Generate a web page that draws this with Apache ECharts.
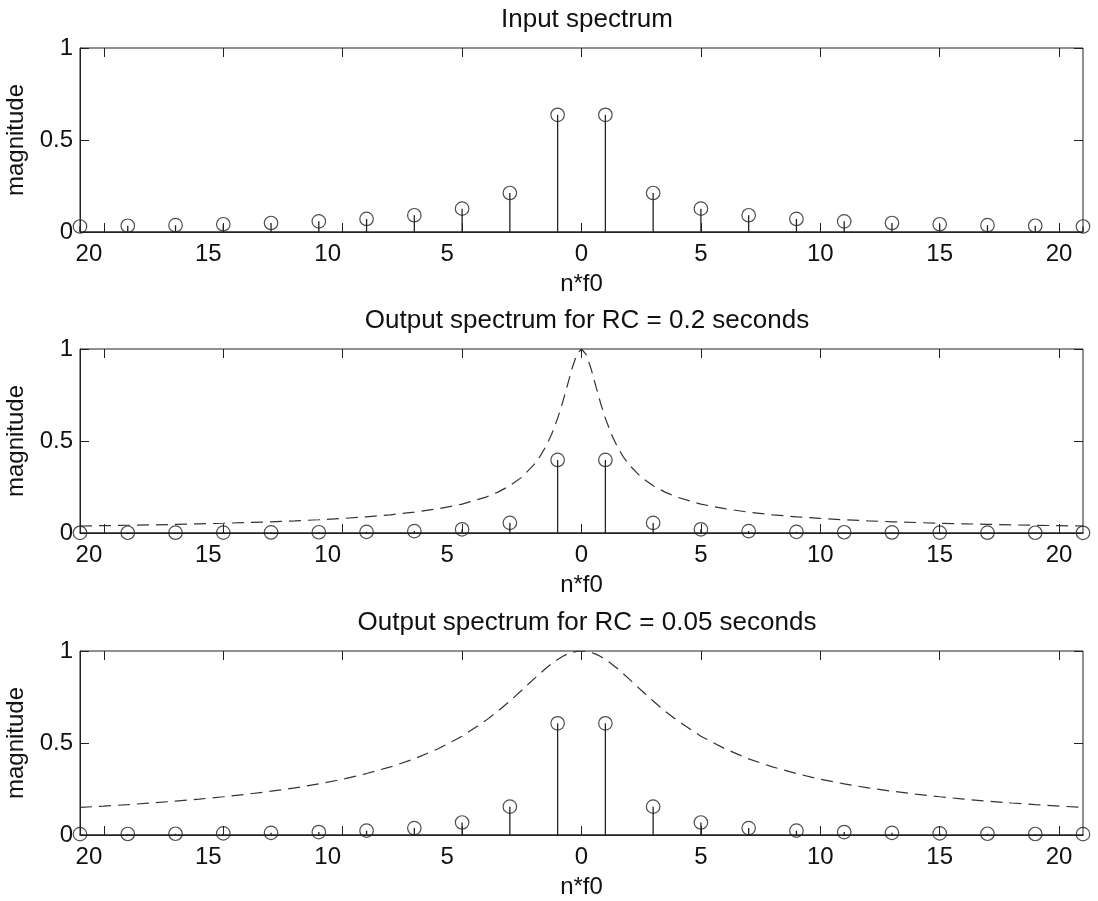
<!DOCTYPE html>
<html><head><meta charset="utf-8">
<script src="https://cdn.jsdelivr.net/npm/echarts@6/dist/echarts.min.js"></script>
<style>html,body{margin:0;padding:0;background:#fff}#c{width:1098px;height:901px}</style>
</head><body><div id="c"></div>
<script>
// ---- data ----
const harmonics = [-21,-19,-17,-15,-13,-11,-9,-7,-5,-3,-1,1,3,5,7,9,11,13,15,17,19,21];
const inputMag  = [0.030,0.034,0.037,0.042,0.049,0.058,0.071,0.091,0.127,0.212,0.637,
                   0.637,0.212,0.127,0.091,0.071,0.058,0.049,0.042,0.037,0.034,0.030];
const outRC02   = [0.0012,0.0014,0.0017,0.0022,0.0030,0.0042,0.0062,0.0103,0.020,0.055,0.397,
                   0.397,0.055,0.020,0.0103,0.0062,0.0042,0.0030,0.0022,0.0017,0.0014,0.0012];
const outRC005  = [0.0045,0.0055,0.0069,0.0088,0.0117,0.0161,0.0236,0.0376,0.068,0.154,0.607,
                   0.607,0.154,0.068,0.0376,0.0236,0.0161,0.0117,0.0088,0.0069,0.0055,0.0045];
const curveX    = [-21,-20,-19,-18,-17,-16,-15,-14,-13,-12,-11,-10,-9,-8,-7,-6,-5,-4,-3.5,-3,-2.5,-2,-1.75,-1.5,-1.25,-1,-0.8,-0.6,-0.4,-0.2,
                   0,
                   0.2,0.4,0.6,0.8,1,1.25,1.5,1.75,2,2.5,3,3.5,4,5,6,7,8,9,10,11,12,13,14,15,16,17,18,19,20,21];
const curveRC02 = [0.038,0.040,0.042,0.044,0.047,0.050,0.053,0.057,0.061,0.066,0.072,0.079,0.088,0.099,0.113,0.132,0.157,0.195,0.222,0.257,0.303,0.370,0.414,0.469,0.537,0.623,0.705,0.798,0.893,0.970,
                   1.000,
                   0.970,0.893,0.798,0.705,0.623,0.537,0.469,0.414,0.370,0.303,0.257,0.222,0.195,0.157,0.132,0.113,0.099,0.088,0.079,0.072,0.066,0.061,0.057,0.053,0.050,0.047,0.044,0.042,0.040,0.038];
const curveRC005= [0.150,0.157,0.165,0.174,0.184,0.195,0.208,0.222,0.238,0.256,0.278,0.303,0.334,0.370,0.414,0.469,0.537,0.623,0.673,0.728,0.787,0.847,0.876,0.905,0.931,0.954,0.970,0.983,0.992,0.998,
                   1.000,
                   0.998,0.992,0.983,0.970,0.954,0.931,0.905,0.876,0.847,0.787,0.728,0.673,0.623,0.537,0.469,0.414,0.370,0.334,0.303,0.278,0.256,0.238,0.222,0.208,0.195,0.184,0.174,0.165,0.157,0.150];
const xTicks = [-20,-15,-10,-5,0,5,10,15,20];
const yTicks = [0,0.5,1];
const titles = ['Input spectrum','Output spectrum for RC = 0.2 seconds','Output spectrum for RC = 0.05 seconds'];
const xName = 'n*f0';
const yName = 'magnitude';

// ---- build ----
const FONT = '"Liberation Sans", Arial, Helvetica, sans-serif';
const INK = '#222';
const FS = 24;
const gridTops = [48, 349, 651];
const GH = 184, GL = 80, GW = 1003;
const panels = [
  {stems: inputMag, curve: null},
  {stems: outRC02, curve: curveRC02},
  {stems: outRC005, curve: curveRC005}
];

const grid = [], xAxis = [], yAxis = [], series = [], title = [];
const tickStyle = {show: true, inside: true, length: 9, lineStyle: {color: INK, width: 1}};

panels.forEach((p, g) => {
  grid.push({left: GL, top: gridTops[g], width: GW, height: GH, show: true,
    outerBoundsMode: 'none', containLabel: false,
    borderColor: INK, borderWidth: 1, backgroundColor: 'transparent'});
  title.push({text: titles[g], left: 582, top: gridTops[g] - 46, textAlign: 'center',
    textStyle: {fontFamily: FONT, fontSize: 26, fontWeight: 'normal', color: '#111'}});
  // bottom x axis
  xAxis.push({type: 'value', gridIndex: g, position: 'bottom', min: -21, max: 21,
    axisLine: {show: true, onZero: false, lineStyle: {color: INK, width: 1}},
    axisTick: Object.assign({customValues: xTicks}, tickStyle),
    axisLabel: {customValues: xTicks, margin: 10, fontFamily: FONT, fontSize: FS, color: '#111',
      formatter: v => v < 0 ? ('{L|' + (-v) + '}') : String(v),
      rich: {
        L: {fontFamily: FONT, fontSize: FS, color: '#111', padding: [0, 30, 0, 0]}
      }},
    splitLine: {show: false},
    name: xName, nameLocation: 'middle', nameGap: 40,
    nameTextStyle: {fontFamily: FONT, fontSize: FS, color: '#111'}});
  // top x axis (ticks only)
  xAxis.push({type: 'value', gridIndex: g, position: 'top', min: -21, max: 21,
    axisLine: {show: false, onZero: false}, axisTick: Object.assign({customValues: xTicks}, tickStyle),
    axisLabel: {show: false}, splitLine: {show: false}});
  // left y axis
  yAxis.push({type: 'value', gridIndex: g, position: 'left', min: 0, max: 1, interval: 0.5,
    axisLine: {show: true, onZero: false, lineStyle: {color: INK, width: 1}},
    axisTick: tickStyle,
    axisLabel: {margin: 7, fontFamily: FONT, fontSize: FS, color: '#111', formatter: v => String(v)},
    splitLine: {show: false},
    name: yName, nameLocation: 'middle', nameGap: 52, nameRotate: 90,
    nameTextStyle: {fontFamily: FONT, fontSize: FS, color: '#111'}});
  // right y axis (ticks only)
  yAxis.push({type: 'value', gridIndex: g, position: 'right', min: 0, max: 1, interval: 0.5,
    axisLine: {show: false, onZero: false}, axisTick: tickStyle, axisLabel: {show: false}, splitLine: {show: false}});

  const xi = 2 * g, yi = 2 * g;
  const stemData = harmonics.map((x, i) => [x, p.stems[i]]);
  if (p.curve) {
    series.push({type: 'line', xAxisIndex: xi, yAxisIndex: yi, showSymbol: false, symbol: 'none',
      data: curveX.map((x, i) => [x, p.curve[i]]),
      lineStyle: {color: '#333', width: 1.2, type: [12, 7]}, z: 2});
  }
  // baseline at 0
  series.push({type: 'line', xAxisIndex: xi, yAxisIndex: yi, symbol: 'none',
    data: [[-21, 0], [21, 0]], lineStyle: {color: INK, width: 1.2}, z: 3});
  // stems
  series.push({type: 'custom', xAxisIndex: xi, yAxisIndex: yi, data: stemData, z: 4,
    encode: {x: 0, y: 1},
    renderItem: (params, api) => {
      const a = api.coord([api.value(0), 0]);
      const b = api.coord([api.value(0), api.value(1)]);
      return {type: 'line', shape: {x1: a[0], y1: a[1], x2: b[0], y2: b[1]},
        style: {stroke: INK, lineWidth: 1.3}};
    }});
  // markers
  series.push({type: 'scatter', xAxisIndex: xi, yAxisIndex: yi, data: stemData, clip: false,
    symbol: 'circle', symbolSize: 13.5, z: 5,
    itemStyle: {color: 'rgba(0,0,0,0)', borderColor: INK, borderWidth: 1.2}});
});

const chart = echarts.init(document.getElementById('c'), null, {renderer: 'canvas'});
chart.setOption({animation: false, backgroundColor: '#fff', title, grid, xAxis, yAxis, series});
</script>
</body></html>
